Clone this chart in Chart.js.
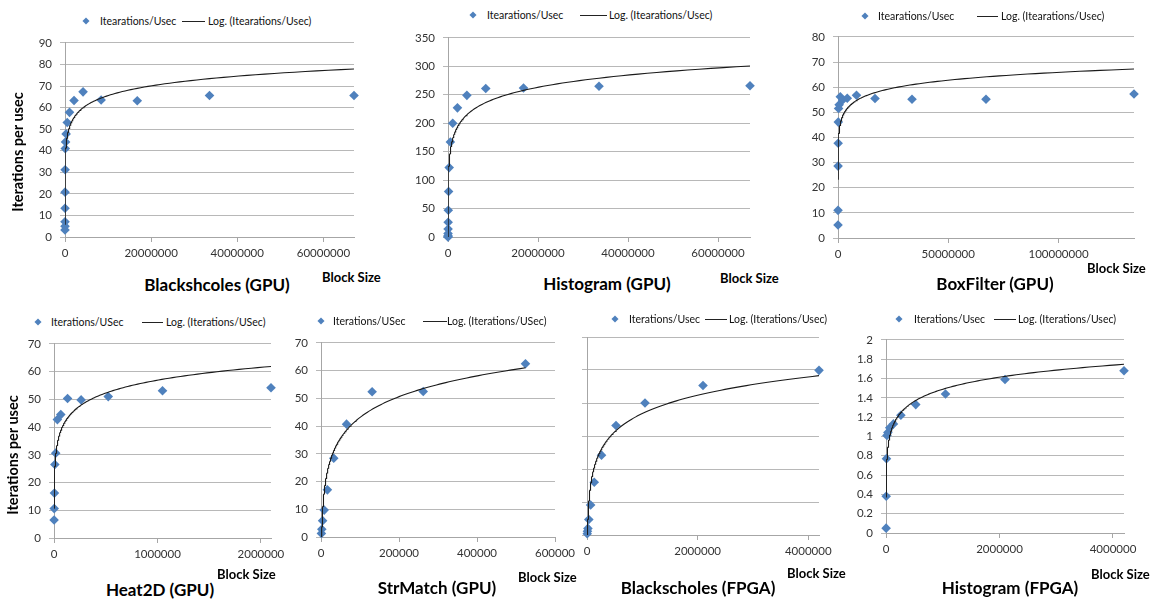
<!DOCTYPE html>
<html>
<head>
<meta charset="utf-8">
<script src="https://cdn.jsdelivr.net/npm/chart.js@4.4.1/dist/chart.umd.min.js"></script>
<style>
  body { margin: 0; background: #fff; width: 1161px; height: 602px; position: relative; overflow: hidden; font-family: Lato, "Open Sans", sans-serif; }
  canvas { position: absolute; }
  .txt { position: absolute; white-space: nowrap; color: #000; line-height: 1; }
  .lg { font-size: 10.5px; transform: translateY(-50%); color: #111; }
  .title { font-weight: bold; font-size: 17px; transform: translate(-50%, -50%); }
  .bs { font-weight: bold; font-size: 13px; transform: translateY(-50%); }
  .ytitle { font-weight: bold; font-size: 14.5px; transform: translate(-50%, -50%) rotate(-90deg); }
  .dia { position: absolute; width: 5px; height: 5px; background: #4f81bd; transform: translate(-50%, -50%) rotate(45deg); }
  .lgline { position: absolute; height: 1px; background: #222; }
</style>
</head>
<body>
<script>
// block sizes (powers of two) and measured iterations per usec
const bsGpuBlock = [1024, 2048, 4096, 8192, 16384, 32768, 65536, 131072, 262144, 524288, 1048576, 2097152, 4194304, 8388608, 16777216, 33554432, 67108864];
const bsGpuRate = [3.3, 5, 7.1, 13.3, 20.8, 31.2, 41, 44.1, 47.8, 53.1, 57.8, 63.3, 67.3, 63.5, 63.2, 65.6, 65.6];

const histGpuBlock = [1024, 2048, 4096, 8192, 16384, 32768, 65536, 131072, 262144, 524288, 1048576, 2097152, 4194304, 8388608, 16777216, 33554432, 67108864];
const histGpuRate = [0.2, 0.5, 2, 6, 14, 26, 47, 80, 122, 167, 200, 227, 249, 261, 262, 265, 266];

const boxGpuBlock = [8192, 16384, 32768, 65536, 131072, 262144, 524288, 1048576, 2097152, 4194304, 8388608, 16777216, 33554432, 67108864, 134217728];
const boxGpuRate = [5.2, 11, 28.6, 37.7, 46.1, 51.5, 53, 56.2, 54.9, 55.6, 56.8, 55.5, 55.2, 55.2, 57.3];

const heatGpuBlock = [1024, 2048, 4096, 8192, 16384, 32768, 65536, 131072, 262144, 524288, 1048576, 2097152];
const heatGpuRate = [6.5, 10.6, 16.2, 26.5, 30.6, 42.7, 44.5, 50.3, 49.8, 51, 53.1, 54.2];

const strGpuBlock = [1024, 2048, 4096, 8192, 16384, 32768, 65536, 131072, 262144, 524288];
const strGpuRate = [1.3, 2.8, 5.9, 9.7, 17, 28.4, 40.7, 52.4, 52.5, 62.5];

const bsFpgaBlock = [4096, 8192, 16384, 32768, 65536, 131072, 262144, 524288, 1048576, 2097152, 4194304];
const bsFpgaRate = [0.4, 1.1, 2.0, 4.7, 9.1, 16, 24.2, 33.2, 40, 45.3, 49.9];

const histFpgaBlock = [2048, 4096, 8192, 16384, 32768, 65536, 131072, 262144, 524288, 1048576, 2097152, 4194304];
const histFpgaRate = [0.05, 0.38, 0.77, 1.01, 1.04, 1.09, 1.13, 1.22, 1.33, 1.44, 1.59, 1.68];

// axis tick labels
const xTicksGpuBig = [0, 20000000, 40000000, 60000000];
const xTicksBox = [0, 50000000, 100000000];
const xTicksHeat = [0, 1000000, 2000000];
const xTicksStr = [0, 200000, 400000, 600000];
const xTicksFpga = [0, 2000000, 4000000];
const yTicksBs = [0, 10, 20, 30, 40, 50, 60, 70, 80, 90];
const yTicksHist = [0, 50, 100, 150, 200, 250, 300, 350];
const yTicksBox = [0, 10, 20, 30, 40, 50, 60, 70, 80];
const yTicks70 = [0, 10, 20, 30, 40, 50, 60, 70];
const yTicksBsFpga = [0, 10, 20, 30, 40, 50, 60];
const yTicksHistFpga = [0, 0.2, 0.4, 0.6, 0.8, 1, 1.2, 1.4, 1.6, 1.8, 2];

const titles = ["Blackshcoles (GPU)", "Histogram (GPU)", "BoxFilter (GPU)", "Heat2D (GPU)", "StrMatch (GPU)", "Blackscholes (FPGA)", "Histogram (FPGA)"];
const seriesLabels = ["Itearations/Usec", "Itearations/Usec", "Itearations/Usec", "Iterations/USec", "Iterations/USec", "Iterations/Usec", "Iterations/Usec"];

Chart.defaults.font.family = "Lato, 'Open Sans', sans-serif";
Chart.defaults.font.size = 11.5;
Chart.defaults.color = "#333";

// Excel style logarithmic trendline: y = a*ln(x) + b, least squares on the plotted points
function logFit(xs, ys) {
    const lx = xs.map(Math.log);
    const n = xs.length;
    const mx = lx.reduce((s, v) => s + v, 0) / n;
    const my = ys.reduce((s, v) => s + v, 0) / n;
    let sxy = 0, sxx = 0;
    lx.forEach((v, i) => {
        sxy += (v - mx) * (ys[i] - my);
        sxx += (v - mx) * (v - mx);
    });
    const a = sxy / sxx;
    return { a: a, b: my - a * mx };
}

function trendline(xs, ys) {
    const fit = logFit(xs, ys);
    const x0 = Math.min(...xs), x1 = Math.max(...xs);
    const pts = [];
    for (let i = 0; i <= 240; i++) {
        const x = x0 * Math.pow(x1 / x0, i / 240);
        pts.push({ x: x, y: fit.a * Math.log(x) + fit.b });
    }
    return pts;
}

const panels = [
    { x: bsGpuBlock, y: bsGpuRate, left: 65, right: 354, top: 38, bottom: 237, xMax: 67108864, xTicks: xTicksGpuBig, yTicks: yTicksBs, yLabels: true,
      legend: [86, 100, 182, 205, 208, 21], title: [217, 284], block: [322, 277] },
    { x: histGpuBlock, y: histGpuRate, left: 448, right: 750, top: 33, bottom: 237, xMax: 67108864, xTicks: xTicksGpuBig, yTicks: yTicksHist, yLabels: true,
      legend: [473, 487, 580, 607, 609, 15], title: [607, 283], block: [720, 278] },
    { x: boxGpuBlock, y: boxGpuRate, left: 838, right: 1134, top: 32, bottom: 238, xMax: 134217728, xTicks: xTicksBox, yTicks: yTicksBox, yLabels: true,
      legend: [865, 878, 977, 998, 1001, 16], title: [995, 283], block: [1087, 268] },
    { x: heatGpuBlock, y: heatGpuRate, left: 54, right: 271, top: 339, bottom: 538, xMax: 2097152, xTicks: xTicksHeat, yTicks: yTicks70, yLabels: true,
      legend: [38, 51, 142, 163, 166, 322], title: [160, 589], block: [217, 574] },
    { x: strGpuBlock, y: strGpuRate, left: 321, right: 555, top: 338, bottom: 537, xMax: 600000, xTicks: xTicksStr, yTicks: yTicks70, yLabels: true,
      legend: [321, 333, 423, 447, 447, 321], title: [437, 587], block: [518, 577] },
    { x: bsFpgaBlock, y: bsFpgaRate, left: 587, right: 819, top: 337, bottom: 535, xMax: 4194304, xTicks: xTicksFpga, yTicks: yTicksBsFpga, yLabels: false,
      legend: [615, 629, 705, 727, 729, 319], title: [698, 587], block: [787, 573] },
    { x: histFpgaBlock, y: histFpgaRate, left: 886, right: 1124, top: 335, bottom: 533, xMax: 4194304, xTicks: xTicksFpga, yTicks: yTicksHistFpga, yLabels: true,
      legend: [899, 914, 994, 1016, 1018, 319], title: [1010, 587], block: [1091, 574] },
];

function addEl(cls, text, x, y, extra) {
    const el = document.createElement("div");
    el.className = cls;
    if (text) el.textContent = text;
    el.style.left = x + "px";
    el.style.top = y + "px";
    if (extra) Object.assign(el.style, extra);
    document.body.appendChild(el);
}

panels.forEach((p, idx) => {
    const yW = 60, padT = 10, padR = 30, xH = 30;
    const w = p.right - p.left + yW + padR;
    const h = p.bottom - p.top + padT + xH;
    const cv = document.createElement("canvas");
    cv.width = w;
    cv.height = h;
    cv.style.left = (p.left - yW) + "px";
    cv.style.top = (p.top - padT) + "px";
    cv.style.width = w + "px";
    cv.style.height = h + "px";
    document.body.appendChild(cv);

    new Chart(cv, {
        type: "scatter",
        data: {
            datasets: [
                {
                    type: "line",
                    label: "Log. (" + seriesLabels[idx] + ")",
                    data: trendline(p.x, p.y),
                    borderColor: "#1a1a1a",
                    borderWidth: 1.1,
                    pointRadius: 0,
                    tension: 0,
                    fill: false,
                    order: 0,
                },
                {
                    label: seriesLabels[idx],
                    data: p.x.map((x, i) => ({ x: x, y: p.y[i] })),
                    pointStyle: "rectRot",
                    pointRadius: 4.8,
                    backgroundColor: "#4f81bd",
                    borderColor: "#4f81bd",
                    borderWidth: 0,
                    clip: false,
                    order: 1,
                },
            ],
        },
        options: {
            responsive: false,
            animation: false,
            layout: { padding: { top: padT, right: padR, left: 0, bottom: 0 } },
            plugins: { legend: { display: false }, tooltip: { enabled: false } },
            scales: {
                x: {
                    type: "linear",
                    min: 0,
                    max: p.xMax,
                    afterFit: (s) => { s.height = xH; },
                    afterBuildTicks: (s) => { s.ticks = p.xTicks.map((v) => ({ value: v })); },
                    ticks: { padding: 4, maxRotation: 0, autoSkip: false, callback: (v) => String(v) },
                    grid: { drawOnChartArea: false, tickLength: 5, color: "#a6a6a6" },
                    border: { color: "#a6a6a6" },
                },
                y: {
                    min: 0,
                    max: p.yTicks[p.yTicks.length - 1],
                    afterFit: (s) => { s.width = yW; },
                    afterBuildTicks: (s) => { s.ticks = p.yTicks.map((v) => ({ value: v })); },
                    ticks: { display: p.yLabels, padding: 8, callback: (v) => String(Math.round(v * 10) / 10) },
                    grid: { color: "#b8b8b8", tickLength: 5 },
                    border: { color: "#a6a6a6" },
                },
            },
        },
    });

    const lg = p.legend;
    addEl("dia", "", lg[0], lg[5]);
    addEl("txt lg", seriesLabels[idx], lg[1], lg[5]);
    addEl("lgline", "", lg[2], lg[5], { width: (lg[3] - lg[2]) + "px" });
    addEl("txt lg", "Log. (" + seriesLabels[idx] + ")", lg[4], lg[5]);
    addEl("txt title", titles[idx], p.title[0], p.title[1]);
    addEl("txt bs", "Block Size", p.block[0], p.block[1]);
});

addEl("txt ytitle", "Iterations per usec", 18, 152);
addEl("txt ytitle", "Iterations per usec", 13, 455);
</script>
</body>
</html>
